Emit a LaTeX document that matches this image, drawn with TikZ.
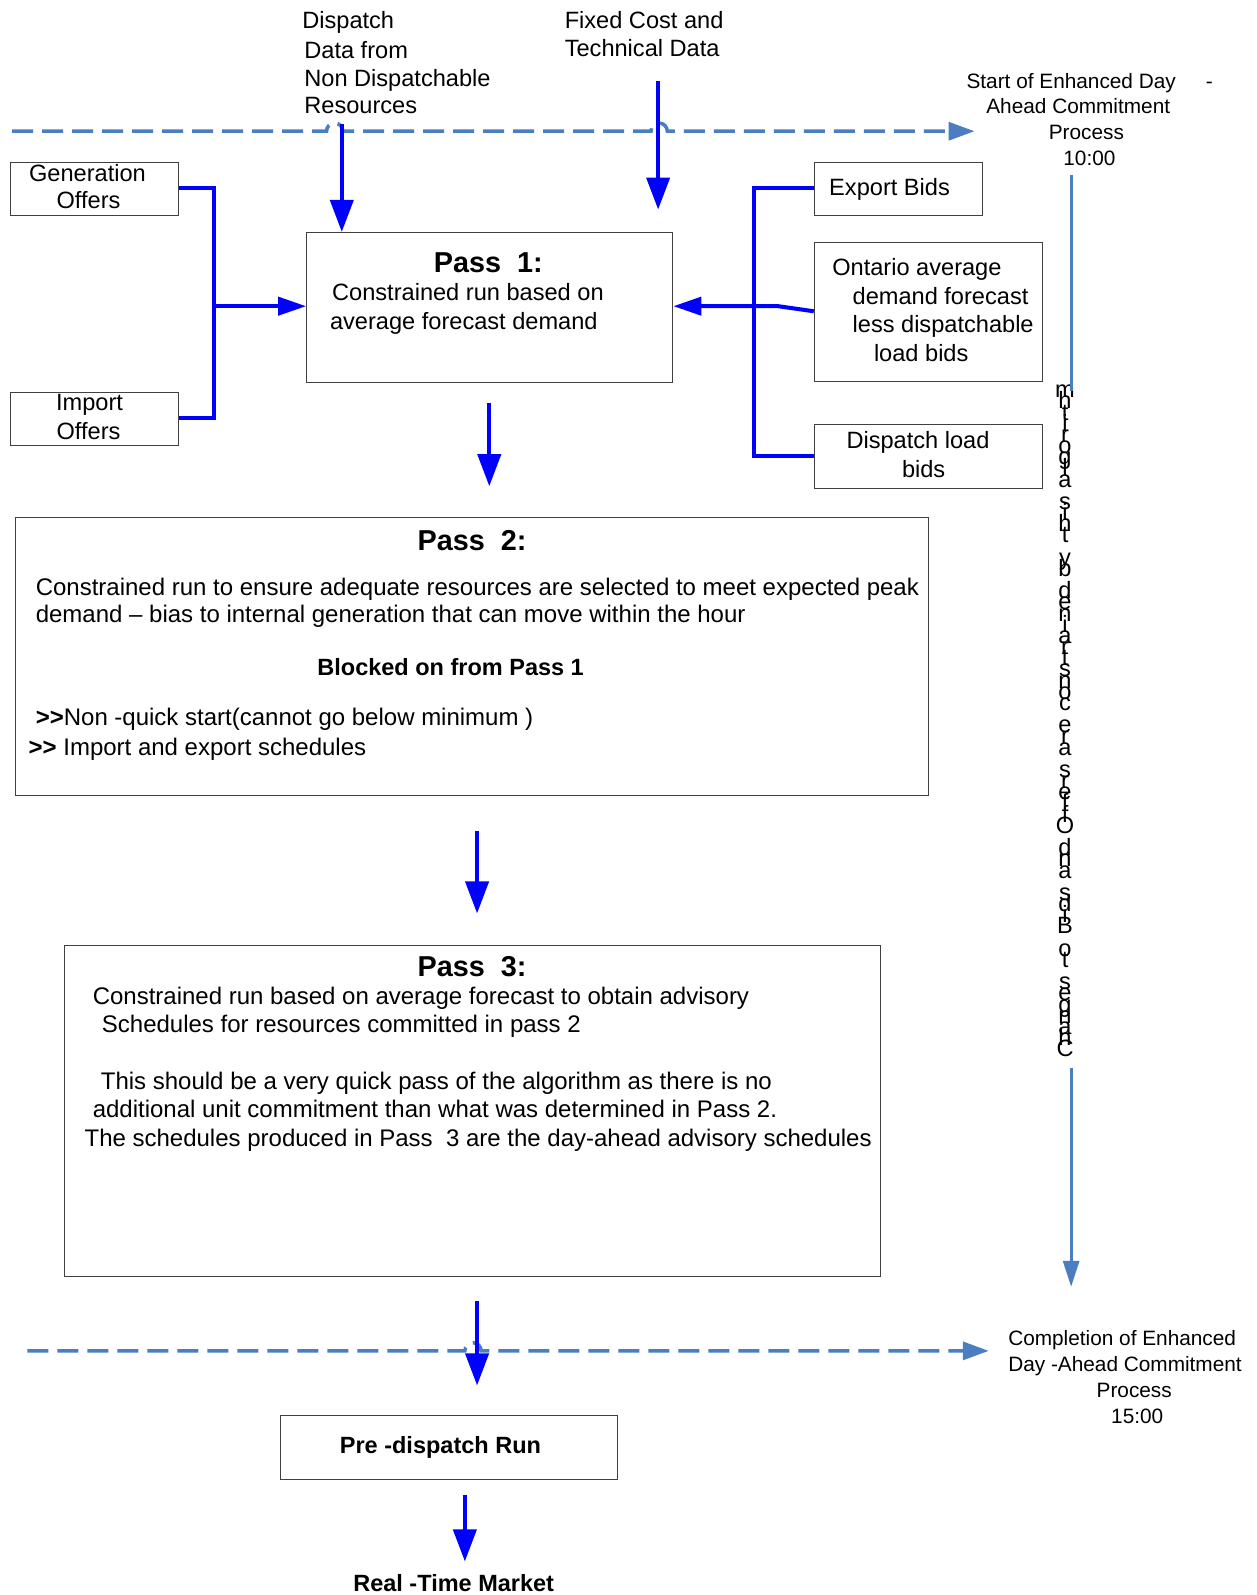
\documentclass[tikz,border=0pt]{standalone}
\usepackage{fontspec}
\setmainfont{Liberation Sans}
\usetikzlibrary{arrows.meta}
\definecolor{pblue}{RGB}{0,0,255}
\definecolor{steel}{RGB}{74,126,193}
\definecolor{boxgray}{RGB}{64,64,64}
\begin{document}
\begin{tikzpicture}[x=1.0173pt,y=-1.0173pt,
  t/.style={font=\fontsize{23.6}{28}\selectfont, inner sep=0pt},
  tw/.style={font=\fontsize{24}{28}\selectfont, inner sep=0pt},
  tb/.style={font=\fontsize{23.5}{28}\selectfont\bfseries, inner sep=0pt},
  th/.style={font=\fontsize{28.8}{34}\selectfont\bfseries, inner sep=0pt},
  ts/.style={font=\fontsize{20.8}{25}\selectfont, inner sep=0pt},
  box/.style={draw=boxgray, line width=1.2pt, inner sep=0pt, anchor=north west},
  flow/.style={draw=pblue, line width=4pt, -{Triangle[width=23pt,length=32pt]}},
  sflow/.style={draw=pblue, line width=4pt, -{Triangle[width=18pt,length=28pt]}},
  link/.style={draw=pblue, line width=4pt},
  dashline/.style={draw=steel, line width=3.5pt, dash pattern=on 21pt off 9pt, -{Triangle[width=18pt,length=26pt]}},
  vline/.style={draw=steel, line width=3pt},
]
\useasboundingbox (0,0) rectangle (1235.6,1568);

% dashed milestone lines
\draw[dashline] (12,129) -- (321,129) arc[start angle=180,end angle=360,radius=8] -- (640,129) arc[start angle=180,end angle=360,radius=8] -- (958,129);
\draw[dashline] (27,1328) -- (457,1328) arc[start angle=180,end angle=360,radius=8] -- (972,1328);

% boxes
\node[box, minimum width=168pt, minimum height=53pt] (gen) at (10,159) {};
\node[box, minimum width=168pt, minimum height=53pt] (imp) at (10,385) {};
\node[box, minimum width=366pt, minimum height=150pt] (p1) at (301,228) {};
\node[box, minimum width=168pt, minimum height=53pt] (exp) at (800,159) {};
\node[box, minimum width=228pt, minimum height=139pt] (ont) at (800,238) {};
\node[box, minimum width=228pt, minimum height=64pt] (dlb) at (800,417) {};
\node[box, minimum width=912.5pt, minimum height=278pt] (p2) at (15,508) {};
\node[box, minimum width=816pt, minimum height=331pt] (p3) at (63,929) {};
\node[box, minimum width=337pt, minimum height=64pt] (pd) at (275,1391) {};

% top texts
\node[t, anchor=base west] (d1) at (297,28) {Dispatch};
\node[t, anchor=base west] (d2) at (299,58) {Data from};
\node[t, anchor=base west] (d3) at (299,85) {Non Dispatchable};
\node[t, anchor=base west] (d4) at (299,112) {Resources};
\node[t, anchor=base west] (f1) at (555,28) {Fixed Cost and};
\node[t, anchor=base west] (f2) at (555,56) {Technical Data};
\node[ts, anchor=base west] (s1) at (950,87) {Start of Enhanced Day\hspace{30pt}-};
\node[ts, anchor=base] (s2) at (1060,112) {Ahead Commitment};
\node[ts, anchor=base] (s3) at (1068,137) {Process};
\node[ts, anchor=base] (s4) at (1071,163) {10:00};

% box texts
\node[t, anchor=base] (g1) at (86,178) {Generation};
\node[t, anchor=base] (g2) at (87,205) {Offers};
\node[t, anchor=base] (i1) at (88,404) {Import};
\node[t, anchor=base] (i2) at (87,432) {Offers};
\node[th, anchor=base] (p1a) at (480,268) {Pass\ \ 1:};
\node[t, anchor=base] (p1b) at (460,295) {Constrained run based on};
\node[t, anchor=base] (p1c) at (456,324) {average forecast demand};
\node[t, anchor=base west] (e1) at (815,192) {Export Bids};
\node[t, anchor=base west] (o1) at (818,271) {Ontario average};
\node[t, anchor=base west] (o2) at (838,299) {demand forecast};
\node[t, anchor=base west] (o3) at (838,327) {less dispatchable};
\node[t, anchor=base west] (o4) at (859,355) {load bids};
\node[t, anchor=base west] (l1) at (832,441) {Dispatch load};
\node[t, anchor=base] (l2) at (908,469) {bids};

\node[th, anchor=base] (p2a) at (464,541) {Pass\ \ 2:};
\node[tw, anchor=base west] (p2b) at (35,585) {Constrained run to ensure adequate resources are selected to meet expected peak};
\node[tw, anchor=base west] (p2c) at (35,612) {demand -- bias to internal generation that can move within the hour};
\node[tb, anchor=base] (p2d) at (443,664) {Blocked on from Pass 1};
\node[tw, anchor=base west] (p2e) at (35,713) {\textbf{>{}>}Non -quick start(cannot go below minimum )};
\node[tw, anchor=base west] (p2f) at (28,743) {\textbf{>{}>} Import and export schedules};

\node[th, anchor=base] (p3a) at (464,960) {Pass\ \ 3:};
\node[tw, anchor=base west] (p3b) at (91,987) {Constrained run based on average forecast to obtain advisory};
\node[tw, anchor=base west] (p3c) at (100,1015) {Schedules for resources committed in pass 2};
\node[tw, anchor=base west] (p3d) at (99,1071) {This should be a very quick pass of the algorithm as there is no};
\node[tw, anchor=base west] (p3e) at (91,1099) {additional unit commitment than what was determined in Pass 2.};
\node[tw, anchor=base west] (p3f) at (83,1127) {The schedules produced in Pass\ \ 3 are the day-ahead advisory schedules};

\node[tb, anchor=base] (pdt) at (433,1429) {Pre -dispatch Run};
\node[tb, anchor=base] (rt) at (446,1565) {Real -Time Market};

\node[ts, anchor=base west] (c1) at (991,1323) {Completion of Enhanced};
\node[ts, anchor=base west] (c2) at (991,1348) {Day -Ahead Commitment};
\node[ts, anchor=base] (c3) at (1115,1374) {Process};
\node[ts, anchor=base] (c4) at (1118,1399) {15:00};

% vertical stacked text
\foreach \ch [count=\i] in {m,h,t,i,r,o,g,l,a,{},s,i,h,t,{},y,b,{},d,e,n,i,a,r,t,s,n,o,c,{},e,r,a,{},s,r,e,f,f,O,{},d,n,a,{},s,d,i,B,{},o,t,{},s,e,g,n,a,h,C}
  \node[t, anchor=base] (v\i) at (1047,{391+(\i-1)*10.98}) {\ch};

% vertical timeline
\coordinate (vt1) at (1053,172);
\coordinate (vt2) at (1053,384);
\coordinate (vb1) at (1053,1050);
\coordinate (vb2) at (1053,1265);
\draw[vline] (vt1) -- (vt2);
\draw[vline, -{Triangle[width=16pt,length=26pt]}] (vb1) -- (vb2);

% flow arrows
\coordinate (da) at (336,122);
\draw[flow] (da) -- (p1.north -| da);
\coordinate (fa1) at (647,80);
\coordinate (fa2) at (647,206);
\draw[flow] (fa1) -- (fa2);

\coordinate (lj) at (210,301);
\draw[link] (gen.east |- 0,185) -- (210,185) -- (210,411) -- (imp.east |- 0,411);
\draw[sflow] (lj) -- (p1.west |- lj);

\draw[link] (exp.west |- 0,185) -- (741,185) -- (741,448) -- (dlb.west |- 0,448);
\draw[sflow] (ont.west |- 0,306) -- (765,301) -- (p1.east |- lj);

\coordinate (a12a) at (481,396);
\coordinate (a12b) at (481,478);
\draw[flow] (a12a) -- (a12b);
\coordinate (a23a) at (469,817);
\coordinate (a23b) at (469,898);
\draw[flow] (a23a) -- (a23b);
\coordinate (a3pa) at (469,1279);
\coordinate (a3pb) at (469,1362);
\draw[flow] (a3pa) -- (a3pb);
\coordinate (aprta) at (457,1470);
\coordinate (aprtb) at (457,1535);
\draw[flow] (aprta) -- (aprtb);
\end{tikzpicture}
\end{document}
